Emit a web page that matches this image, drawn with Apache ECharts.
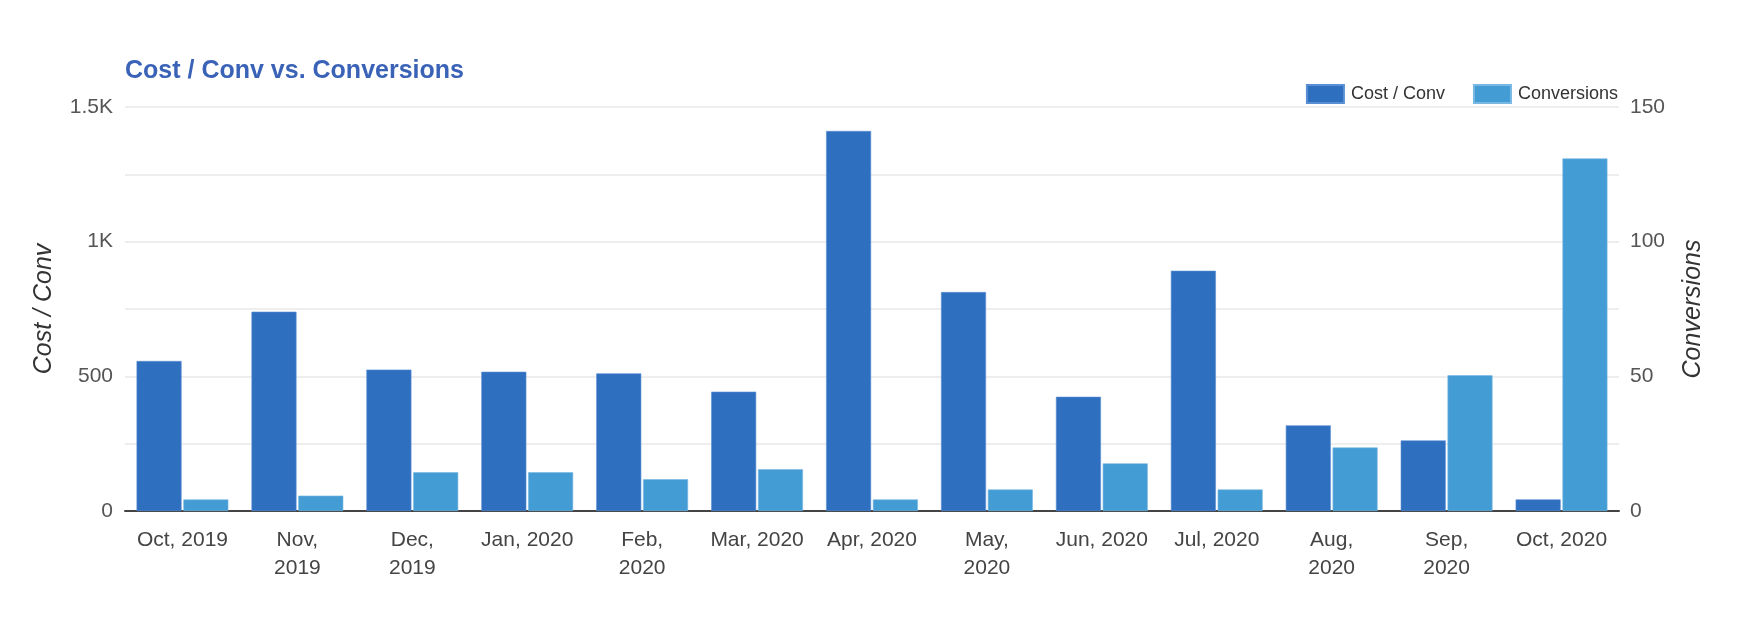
<!DOCTYPE html>
<html>
<head>
<meta charset="utf-8">
<script src="https://cdn.jsdelivr.net/npm/echarts@6/dist/echarts.min.js"></script>
<style>
  html, body { margin: 0; padding: 0; background: #ffffff; }
  #chart { width: 1740px; height: 628px; }
</style>
</head>
<body>
<div id="chart"></div>
<script>
// ---- Data ----
const categories = ["Oct, 2019", "Nov, 2019", "Dec, 2019", "Jan, 2020", "Feb, 2020", "Mar, 2020", "Apr, 2020", "May, 2020", "Jun, 2020", "Jul, 2020", "Aug, 2020", "Sep, 2020", "Oct, 2020"];
const tickLabels = ["Oct, 2019", "Nov,\n2019", "Dec,\n2019", "Jan, 2020", "Feb,\n2020", "Mar, 2020", "Apr, 2020", "May,\n2020", "Jun, 2020", "Jul, 2020", "Aug,\n2020", "Sep,\n2020", "Oct, 2020"];
const costPerConv = [557, 740, 525, 517, 511, 443, 1411, 813, 424, 892, 318, 262, 43];
const conversions = [4.3, 5.7, 14.4, 14.4, 11.8, 15.5, 4.3, 8, 17.7, 8, 23.6, 50.4, 130.9];
const leftTicks = { min: 0, max: 1500, step: 250, labelStep: 500 };
const rightTicks = { min: 0, max: 150, step: 25, labelStep: 50 };

const FONT = '"Liberation Sans", Arial, sans-serif';
const chart = echarts.init(document.getElementById('chart'), null, { renderer: 'canvas' });

function kFormat(v) {
  if (v % leftTicks.labelStep !== 0) return '';
  if (v >= 1000) return (v / 1000) + 'K';
  return String(v);
}

chart.setOption({
  backgroundColor: '#ffffff',
  animation: false,
  textStyle: { fontFamily: FONT },
  title: {
    text: 'Cost / Conv vs. Conversions',
    left: 120,
    top: 54,
    textStyle: { fontFamily: FONT, fontSize: 25, fontWeight: 'bold', color: '#3a63b8' }
  },
  legend: {
    right: 117,
    top: 79,
    itemWidth: 37,
    itemHeight: 18,
    itemGap: 28,
    icon: 'rect',
    textStyle: { fontFamily: FONT, fontSize: 18, color: '#333333', padding: [0, 0, 0, 2] },
    data: ['Cost / Conv', 'Conversions']
  },
  grid: { left: 125, right: 121, top: 107, bottom: 117, containLabel: false },
  xAxis: {
    type: 'category',
    data: tickLabels,
    axisTick: { show: false },
    axisLine: { show: true, onZero: false, lineStyle: { color: '#444444', width: 2 } },
    axisLabel: { interval: 0, fontFamily: FONT, fontSize: 21, color: '#444444', margin: 15, lineHeight: 28 }
  },
  yAxis: [
    {
      type: 'value',
      min: leftTicks.min, max: leftTicks.max, interval: leftTicks.step,
      name: 'Cost / Conv',
      nameLocation: 'middle',
      nameGap: 68,
      nameRotate: 90,
      nameTextStyle: { fontFamily: FONT, fontSize: 25, fontStyle: 'italic', color: '#333333' },
      axisLine: { show: false },
      axisTick: { show: false },
      axisLabel: { formatter: kFormat, fontFamily: FONT, fontSize: 21, color: '#555555', margin: 12 },
      splitLine: { show: true, lineStyle: { color: '#eeeeee', width: 2 } }
    },
    {
      type: 'value',
      min: rightTicks.min, max: rightTicks.max, interval: rightTicks.step,
      name: 'Conversions',
      nameLocation: 'middle',
      nameGap: 62,
      nameRotate: 90,
      nameTextStyle: { fontFamily: FONT, fontSize: 25, fontStyle: 'italic', color: '#333333' },
      axisLine: { show: false },
      axisTick: { show: false },
      axisLabel: {
        formatter: v => (v % rightTicks.labelStep === 0 ? String(v) : ''),
        fontFamily: FONT, fontSize: 21, color: '#555555', margin: 11
      },
      splitLine: { show: false }
    }
  ],
  series: [
    {
      name: 'Cost / Conv',
      type: 'bar',
      yAxisIndex: 0,
      data: costPerConv,
      barWidth: 45,
      barGap: '4%',
      itemStyle: { color: '#2f6fbf', borderColor: '#5a8fd3', borderWidth: 0.6 }
    },
    {
      name: 'Conversions',
      type: 'bar',
      yAxisIndex: 1,
      data: conversions,
      barWidth: 45,
      barGap: '4%',
      itemStyle: { color: '#449cd5', borderColor: '#78b8e3', borderWidth: 0.6 }
    }
  ]
});
</script>
</body>
</html>
